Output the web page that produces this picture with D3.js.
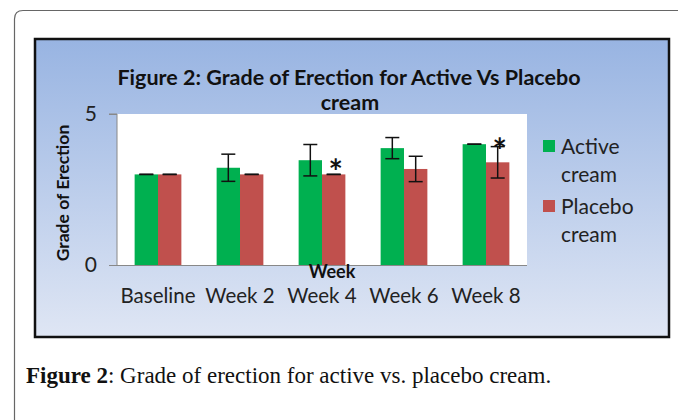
<html>
<head>
<script src="https://d3js.org/d3.v7.min.js"></script>
<style>
  body { margin: 0; background: white; }
  svg { display: block; }
</style>
</head>
<body>
<svg width="678" height="420"></svg>
<script>
// data
var categories = ["Baseline", "Week 2", "Week 4", "Week 6", "Week 8"];
var active = [3.0, 3.22, 3.47, 3.87, 4.0];
var activeErr = [0, 0.45, 0.52, 0.35, 0];
var placebo = [3.0, 3.0, 3.0, 3.18, 3.4];
var placeboErr = [0, 0, 0, 0.42, 0.52];
// asterisk level (in grade units) where a difference is marked, null = none
var starLevel = [null, null, 3.31, null, 4.02];
var yTicks = [0, 5];
var seriesNames = ["Active cream", "Placebo cream"];
var seriesColors = ["#00b050", "#c0504d"];

var svg = d3.select("svg");
var chartFont = "Lato, 'Open Sans', sans-serif";

// outer rounded frame (runs off the page)
svg.append("path")
  .attr("d", "M14.5,420 L14.5,19 Q14.5,10.5 23,10.5 L678,10.5")
  .attr("fill", "none").attr("stroke", "#666").attr("stroke-width", 1.2);

// chart area gradient
var grad = svg.append("defs").append("linearGradient")
  .attr("id", "bg").attr("x1", 0).attr("y1", 0).attr("x2", 0).attr("y2", 1);
grad.append("stop").attr("offset", "0%").attr("stop-color", "#98b4e2");
grad.append("stop").attr("offset", "100%").attr("stop-color", "#dfe6f4");

svg.append("rect")
  .attr("x", 35).attr("y", 39).attr("width", 634).attr("height", 298)
  .attr("fill", "url(#bg)").attr("stroke", "#111").attr("stroke-width", 2.5);

var plotL = 117, plotR = 527, plotT = 114, plotB = 265;

var x = d3.scaleBand().domain(categories).range([plotL, plotR]).paddingInner(0.43).paddingOuter(0.215);
var y = d3.scaleLinear().domain([0, 5]).range([plotB, plotT]);
var barW = x.bandwidth() / 2;

// plot area
svg.append("rect")
  .attr("x", plotL).attr("y", plotT).attr("width", plotR - plotL).attr("height", plotB - plotT)
  .attr("fill", "white");

// title
var title = svg.append("text")
  .attr("text-anchor", "middle")
  .style("font-family", chartFont).style("font-weight", "bold").style("font-size", "21.5px")
  .attr("fill", "#111");
title.append("tspan").attr("x", 349).attr("y", 85).text("Figure 2: Grade of Erection for Active Vs Placebo");
title.append("tspan").attr("x", 350).attr("y", 110).text("cream");

// bars
var rows = categories.map(function(c, i) {
  return [
    {cat: c, s: 0, v: active[i], e: activeErr[i]},
    {cat: c, s: 1, v: placebo[i], e: placeboErr[i]}
  ];
});
var flat = [].concat.apply([], rows);

svg.append("g").selectAll("rect").data(flat).enter().append("rect")
  .attr("x", function(d) { return x(d.cat) + d.s * barW; })
  .attr("y", function(d) { return y(d.v); })
  .attr("width", barW)
  .attr("height", function(d) { return y(0) - y(d.v); })
  .attr("fill", function(d) { return seriesColors[d.s]; });

// error bars
var eb = svg.append("g").attr("stroke", "#111").attr("stroke-width", 1.5);
flat.forEach(function(d) {
  var cx = x(d.cat) + d.s * barW + barW / 2;
  var y1 = y(d.v + d.e), y2 = y(d.v - d.e);
  eb.append("line").attr("x1", cx).attr("x2", cx).attr("y1", y1).attr("y2", y2);
  eb.append("line").attr("x1", cx - 7).attr("x2", cx + 7).attr("y1", y1).attr("y2", y1);
  eb.append("line").attr("x1", cx - 7).attr("x2", cx + 7).attr("y1", y2).attr("y2", y2);
});

// significance stars
svg.append("g").selectAll("text")
  .data(categories.filter(function(c, i) { return starLevel[i] !== null; }))
  .enter().append("text")
  .attr("x", function(c) { return x(c) + barW * 1.5 + 2; })
  .attr("y", function(c) { return y(starLevel[categories.indexOf(c)]) + 19; })
  .attr("text-anchor", "middle")
  .style("font-family", chartFont).style("font-weight", "bold").style("font-size", "34px")
  .attr("fill", "#111")
  .text("*");

// y axis
var yaxis = svg.append("g")
  .attr("transform", "translate(" + plotL + ",0)")
  .call(d3.axisLeft(y).tickValues(yTicks).tickFormat(d3.format("d")).tickSize(8).tickPadding(12));
yaxis.select(".domain").attr("stroke", "#888").attr("d", "M-8," + plotT + "H0V" + (plotB + 0.5) + "H" + (plotR - plotL) + "");
yaxis.selectAll(".tick line").attr("stroke", "#888");
yaxis.selectAll("text").style("font-family", chartFont).style("font-size", "21px").attr("fill", "#222");

// x labels
svg.append("g").selectAll("text").data(categories).enter().append("text")
  .attr("x", function(c) { return x(c) + x.bandwidth() / 2; })
  .attr("y", 303)
  .attr("text-anchor", "middle")
  .style("font-family", chartFont).style("font-size", "20.5px")
  .attr("fill", "#222")
  .text(function(c) { return c; });

// axis titles
svg.append("text")
  .attr("x", 332).attr("y", 278).attr("text-anchor", "middle")
  .style("font-family", chartFont).style("font-weight", "bold").style("font-size", "18px")
  .attr("fill", "#111").text("Week");

svg.append("text")
  .attr("transform", "translate(69,193) rotate(-90)")
  .attr("text-anchor", "middle")
  .style("font-family", chartFont).style("font-weight", "bold").style("font-size", "17.5px")
  .attr("fill", "#111").text("Grade of Erection");

// legend
var legend = svg.append("g");
seriesNames.forEach(function(name, i) {
  var ly = 140 + i * 60;
  legend.append("rect").attr("x", 543).attr("y", ly).attr("width", 12).attr("height", 12)
    .attr("fill", seriesColors[i]);
  var words = name.split(" ");
  var t = legend.append("text")
    .style("font-family", chartFont).style("font-size", "21px").attr("fill", "#222");
  t.append("tspan").attr("x", 561).attr("y", ly + 14).text(words[0]);
  t.append("tspan").attr("x", 561).attr("y", ly + 42).text(words[1]);
});

// caption
var cap = svg.append("text")
  .attr("x", 26).attr("y", 383)
  .style("font-family", "'Liberation Serif', 'DejaVu Serif', serif").style("font-size", "23px")
  .attr("fill", "#111");
cap.append("tspan").style("font-weight", "bold").text("Figure 2");
cap.append("tspan").text(": Grade of erection for active vs. placebo cream.");
</script>
</body>
</html>
